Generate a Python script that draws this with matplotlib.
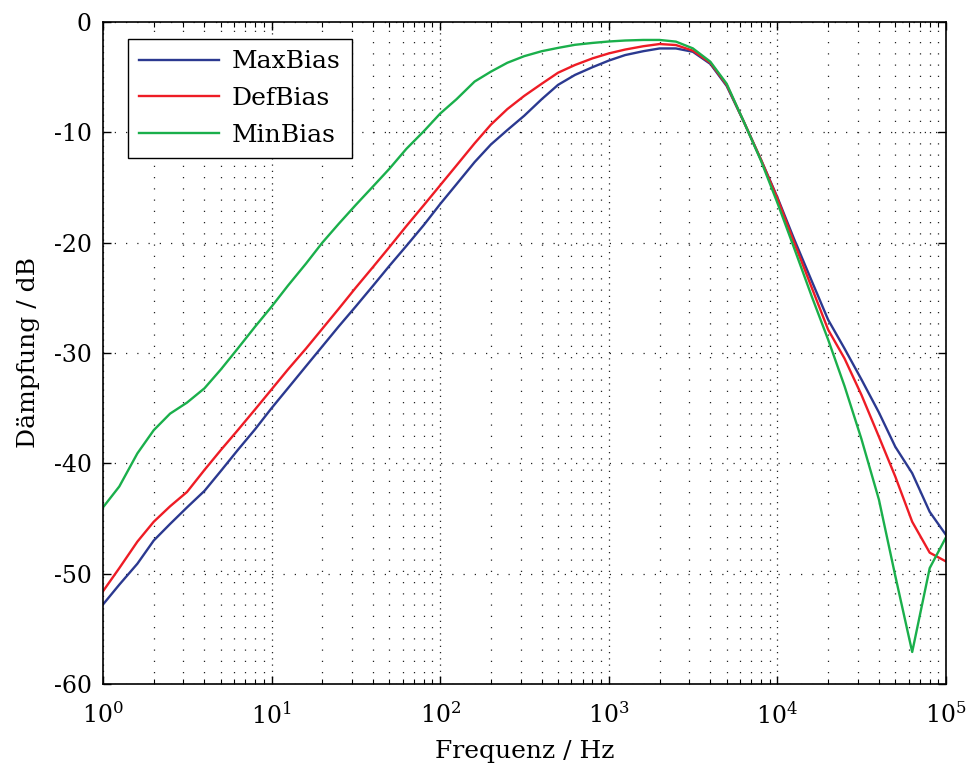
import matplotlib
matplotlib.use("Agg")
import matplotlib.pyplot as plt
from matplotlib.ticker import LogLocator, FixedLocator

plt.rcParams["font.family"] = ["DejaVu Serif"]
plt.rcParams["mathtext.fontset"] = "dejavuserif"
plt.rcParams["axes.unicode_minus"] = False

# 1/3-octave frequencies (Hz)
freq = [1, 1.25, 1.6, 2, 2.5, 3.15, 4, 5, 6.3, 8,
        10, 12.5, 16, 20, 25, 31.5, 40, 50, 63, 80,
        100, 125, 160, 200, 250, 315, 400, 500, 630, 800,
        1000, 1250, 1600, 2000, 2500, 3150, 4000, 5000, 6300, 8000,
        10000, 12500, 16000, 20000, 25000, 31500, 40000, 50000, 63000, 80000,
        100000]

max_bias = [-52.8, -51.0, -49.1, -47.0, -45.5, -44.0, -42.5, -40.7, -38.8, -36.9,
            -35.0, -33.2, -31.2, -29.4, -27.6, -25.8, -23.9, -22.1, -20.3, -18.4,
            -16.5, -14.7, -12.7, -11.1, -9.8, -8.5, -7.0, -5.7, -4.8, -4.1,
            -3.5, -3.0, -2.65, -2.4, -2.4, -2.7, -3.8, -5.8, -9.0, -12.5,
            -15.9, -19.6, -23.5, -27.0, -29.6, -32.4, -35.4, -38.5, -40.9, -44.4,
            -46.5]

def_bias = [-51.6, -49.5, -47.1, -45.3, -43.9, -42.6, -40.6, -38.8, -37.0, -35.1,
            -33.3, -31.5, -29.6, -27.8, -26.0, -24.1, -22.2, -20.4, -18.5, -16.6,
            -14.8, -13.0, -11.0, -9.3, -7.9, -6.7, -5.6, -4.6, -3.9, -3.3,
            -2.85, -2.5, -2.2, -2.0, -2.09, -2.6, -3.7, -5.7, -9.0, -12.5,
            -16.0, -19.9, -24.1, -27.9, -30.5, -33.8, -37.6, -41.2, -45.3, -48.1,
            -48.9]

min_bias = [-44.0, -42.1, -39.1, -37.0, -35.5, -34.5, -33.2, -31.5, -29.6, -27.6,
            -25.8, -23.9, -21.9, -20.0, -18.3, -16.6, -14.9, -13.3, -11.5, -9.9,
            -8.3, -7.0, -5.4, -4.5, -3.7, -3.1, -2.65, -2.35, -2.07, -1.9,
            -1.77, -1.68, -1.63, -1.63, -1.78, -2.39, -3.6, -5.6, -9.0, -12.6,
            -16.4, -20.4, -24.9, -28.8, -33.0, -37.8, -43.3, -50.2, -57.1, -49.5,
            -46.7]

series = [("MaxBias", max_bias, "#2B3990"),
          ("DefBias", def_bias, "#EE1C25"),
          ("MinBias", min_bias, "#1AAF4B")]

fig = plt.figure(figsize=(9.76, 7.79), dpi=100)
ax = fig.add_axes([0.1055, 0.122, 0.8638, 0.8498])

for name, vals, col in series:
    ax.plot(freq, vals, color=col, lw=1.7, label=name)

ax.set_xscale("log")
ax.set_xlim(1, 1e5)
ax.set_ylim(-60, 0)
ax.yaxis.set_major_locator(FixedLocator(range(-60, 1, 10)))
ax.xaxis.set_major_locator(LogLocator(base=10, numticks=10))
ax.xaxis.set_minor_locator(LogLocator(base=10, subs=range(2, 10), numticks=100))

ax.grid(which="major", axis="y", color="#222222", lw=0.9, linestyle=(0, (1, 8)))
ax.grid(which="major", axis="x", color="#222222", lw=0.9, linestyle=(0, (1, 4)))
ax.grid(which="minor", axis="x", color="#222222", lw=0.9, linestyle=(0, (1, 8)))

ax.tick_params(which="both", direction="in", top=True, right=True, labelsize=17)
ax.tick_params(which="major", length=6, width=1)
ax.tick_params(which="minor", length=3.5, width=0.8)
ax.tick_params(axis="x", which="major", pad=13)
ax.tick_params(axis="y", which="major", pad=8)
for s in ax.spines.values():
    s.set_linewidth(1.2)

ax.set_xlabel("Frequenz / Hz", fontsize=18, labelpad=8)
ax.set_ylabel("Dämpfung / dB", fontsize=18, labelpad=10)

leg = ax.legend(loc="upper left", bbox_to_anchor=(0.0297, 0.974), borderaxespad=0,
                fontsize=18, fancybox=False, framealpha=1, edgecolor="black",
                handlelength=3.2, borderpad=0.45, labelspacing=0.55,
                handletextpad=0.5)
leg.get_frame().set_linewidth(1.0)

fig.savefig("out.png", dpi=100)
